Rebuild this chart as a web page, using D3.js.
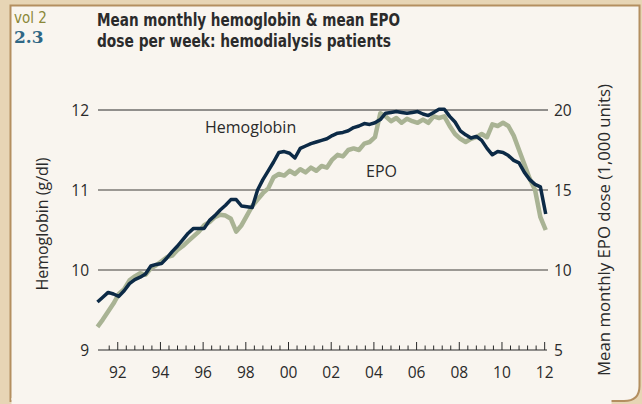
<!DOCTYPE html>
<html>
<head>
<meta charset="utf-8">
<script src="https://d3js.org/d3.v7.min.js"></script>
<style>
  body { margin: 0; background: #e7d5b5; }
  text { font-family: "Open Sans", "Noto Sans", sans-serif; fill: #2a2a2a; }
  .title { font-family: "Liberation Sans Narrow", "DejaVu Sans Condensed", sans-serif; font-weight: bold; fill: #2b2b2b; }
</style>
</head>
<body>
<div id="chart"></div>
<script>
"use strict"

// quarterly readings, first at 1991.05
var inicio = 1991.05;
var hemoglobina = [
  9.60, 9.66, 9.72, 9.70, 9.67, 9.74, 9.83, 9.88, 9.91, 9.95, 10.05, 10.07,
  10.08, 10.15, 10.23, 10.30, 10.38, 10.46, 10.52, 10.52, 10.52, 10.62, 10.68, 10.75,
  10.81, 10.88, 10.88, 10.80, 10.79, 10.78, 11.00, 11.13, 11.24, 11.35, 11.47, 11.48,
  11.46, 11.40, 11.52, 11.55, 11.58, 11.60, 11.62, 11.64, 11.68, 11.71, 11.72, 11.74,
  11.78, 11.80, 11.83, 11.82, 11.84, 11.88, 11.96, 11.97, 11.98, 11.97, 11.96, 11.97,
  11.98, 11.95, 11.93, 11.97, 12.01, 12.01, 11.92, 11.85, 11.74, 11.69, 11.65, 11.67,
  11.62, 11.52, 11.44, 11.48, 11.47, 11.43, 11.37, 11.34, 11.22, 11.13, 11.07, 11.04,
  10.70
];
var epo = [
  6.45, 6.90, 7.40, 7.90, 8.50, 8.80, 9.35, 9.60, 9.80, 9.70, 10.10, 10.30,
  10.55, 10.80, 10.90, 11.25, 11.50, 11.80, 12.10, 12.40, 12.80, 13.00, 13.30, 13.45,
  13.40, 13.20, 12.40, 12.80, 13.40, 14.00, 14.40, 14.80, 15.10, 15.80, 16.00, 15.90,
  16.20, 16.00, 16.30, 16.10, 16.40, 16.20, 16.50, 16.40, 16.90, 17.20, 17.10, 17.50,
  17.60, 17.50, 17.90, 18.00, 18.30, 19.80, 19.60, 19.30, 19.50, 19.20, 19.45, 19.30,
  19.20, 19.40, 19.20, 19.60, 19.50, 19.60, 19.00, 18.50, 18.20, 18.00, 18.20, 18.30,
  18.50, 18.30, 19.10, 19.00, 19.20, 19.00, 18.40, 17.50, 16.60, 15.70, 15.00, 13.30,
  12.50
];
var ticksHb = [9, 10, 11, 12];
var ticksEpo = [5, 10, 15, 20];
var anosRotulo = [1992, 1994, 1996, 1998, 2000, 2002, 2004, 2006, 2008, 2010, 2012];

var largura = 642, altura = 404;
var svg = d3.select('#chart').append('svg')
  .attr('width', largura).attr('height', altura);

// painel
svg.append('path')
  .attr('d', 'M10.5,5.5 H639.5 V386 Q639.5,401 624,401 H10.5 Z')
  .attr('fill', '#f9f5ef')
  .attr('stroke', '#b48f60')
  .attr('stroke-width', 2);
svg.append('rect').attr('x', 11.5).attr('y', 398).attr('width', 600).attr('height', 6).attr('fill', '#f9f5ef');

var x = d3.scaleLinear().domain([1991, 2012.1]).range([96.4, 546.8]);
var y = d3.scaleLinear().domain([9, 12]).range([350, 110]);
var y2 = d3.scaleLinear().domain([5, 20]).range([350, 110]);

var ano = (d, i) => inicio + i / 4;

// grade horizontal
svg.selectAll('.grade')
  .data(ticksHb.slice(1))
  .enter().append('line')
    .attr('x1', 98).attr('x2', 548)
    .attr('y1', d => y(d)).attr('y2', d => y(d))
    .attr('stroke', d => d == 12 ? '#2a2a2a' : '#7d7a76')
    .attr('stroke-width', d => d == 12 ? 1 : 1.6);

// eixo x
var eixoX = svg.append('g').attr('transform', 'translate(0,350)');
eixoX.append('line').attr('x1', 98).attr('x2', 547).attr('stroke', '#2a2a2a').attr('stroke-width', 1.2);
var marcas = d3.range(0, 52).map(k => 1991.6 + k * 0.4);
eixoX.selectAll('.m')
  .data(marcas)
  .enter().append('line')
    .attr('x1', d => x(d)).attr('x2', d => x(d))
    .attr('y1', 0)
    .attr('y2', d => Math.abs(d - Math.round(d)) < 0.05 && Math.round(d) % 2 == 0 ? -8 : -4.5)
    .attr('stroke', '#2a2a2a').attr('stroke-width', 1);
eixoX.selectAll('.r')
  .data(anosRotulo)
  .enter().append('text')
    .attr('x', d => x(d)).attr('y', 28)
    .attr('text-anchor', 'middle')
    .style('font-size', '15.5px')
    .text(d => String(d).slice(2));

// rotulos eixo y
svg.selectAll('.yl')
  .data(ticksHb)
  .enter().append('text')
    .attr('x', 89).attr('y', d => y(d) + 5.5)
    .attr('text-anchor', 'end')
    .style('font-size', '15.5px')
    .text(d => d);
svg.selectAll('.yr')
  .data(ticksEpo)
  .enter().append('text')
    .attr('x', 554).attr('y', d => y2(d) + 5.5)
    .style('font-size', '15.5px')
    .text(d => d);

// linhas
var linhaEpo = d3.line().x((d, i) => x(ano(d, i))).y(d => y2(d));
var linhaHb = d3.line().x((d, i) => x(ano(d, i))).y(d => y(d));

svg.append('path')
  .datum(epo)
  .attr('d', linhaEpo)
  .attr('fill', 'none')
  .attr('stroke', '#a9b394')
  .attr('stroke-width', 4.5)
  .attr('stroke-linejoin', 'round');
svg.append('path')
  .datum(hemoglobina)
  .attr('d', linhaHb)
  .attr('fill', 'none')
  .attr('stroke', '#0c2a46')
  .attr('stroke-width', 3.5)
  .attr('stroke-linejoin', 'round');

svg.append('text').attr('x', 205).attr('y', 133).style('font-size', '16px').text('Hemoglobin');
svg.append('text').attr('x', 366).attr('y', 177).style('font-size', '16px').text('EPO');

// titulos dos eixos
svg.append('text')
  .attr('transform', 'translate(48,224) rotate(-90)')
  .attr('text-anchor', 'middle')
  .style('font-size', '16px')
  .text('Hemoglobin (g/dl)');
svg.append('text')
  .attr('transform', 'translate(610,230) rotate(-90)')
  .attr('text-anchor', 'middle')
  .style('font-size', '16px')
  .attr('textLength', 292).attr('lengthAdjust', 'spacingAndGlyphs')
  .text('Mean monthly EPO dose (1,000 units)');

// cabecalho
svg.append('text').attr('class', 'title').attr('x', 97).attr('y', 26)
  .attr('textLength', 303).attr('lengthAdjust', 'spacingAndGlyphs')
  .style('font-size', '18.5px').text('Mean monthly hemoglobin & mean EPO');
svg.append('text').attr('class', 'title').attr('x', 97).attr('y', 47)
  .attr('textLength', 294).attr('lengthAdjust', 'spacingAndGlyphs')
  .style('font-size', '18.5px').text('dose per week: hemodialysis patients');
svg.append('text').attr('x', 14).attr('y', 23)
  .attr('class', 'title')
  .style('font-weight', 'normal')
  .style('fill', '#8a8838')
  .style('font-size', '15px').text('vol 2');
svg.append('text').attr('x', 14).attr('y', 43)
  .style('font-family', '"DejaVu Serif", serif')
  .style('font-weight', 'bold')
  .style('fill', '#2f6785')
  .style('font-size', '17px').text('2.3');
</script>
</body>
</html>
